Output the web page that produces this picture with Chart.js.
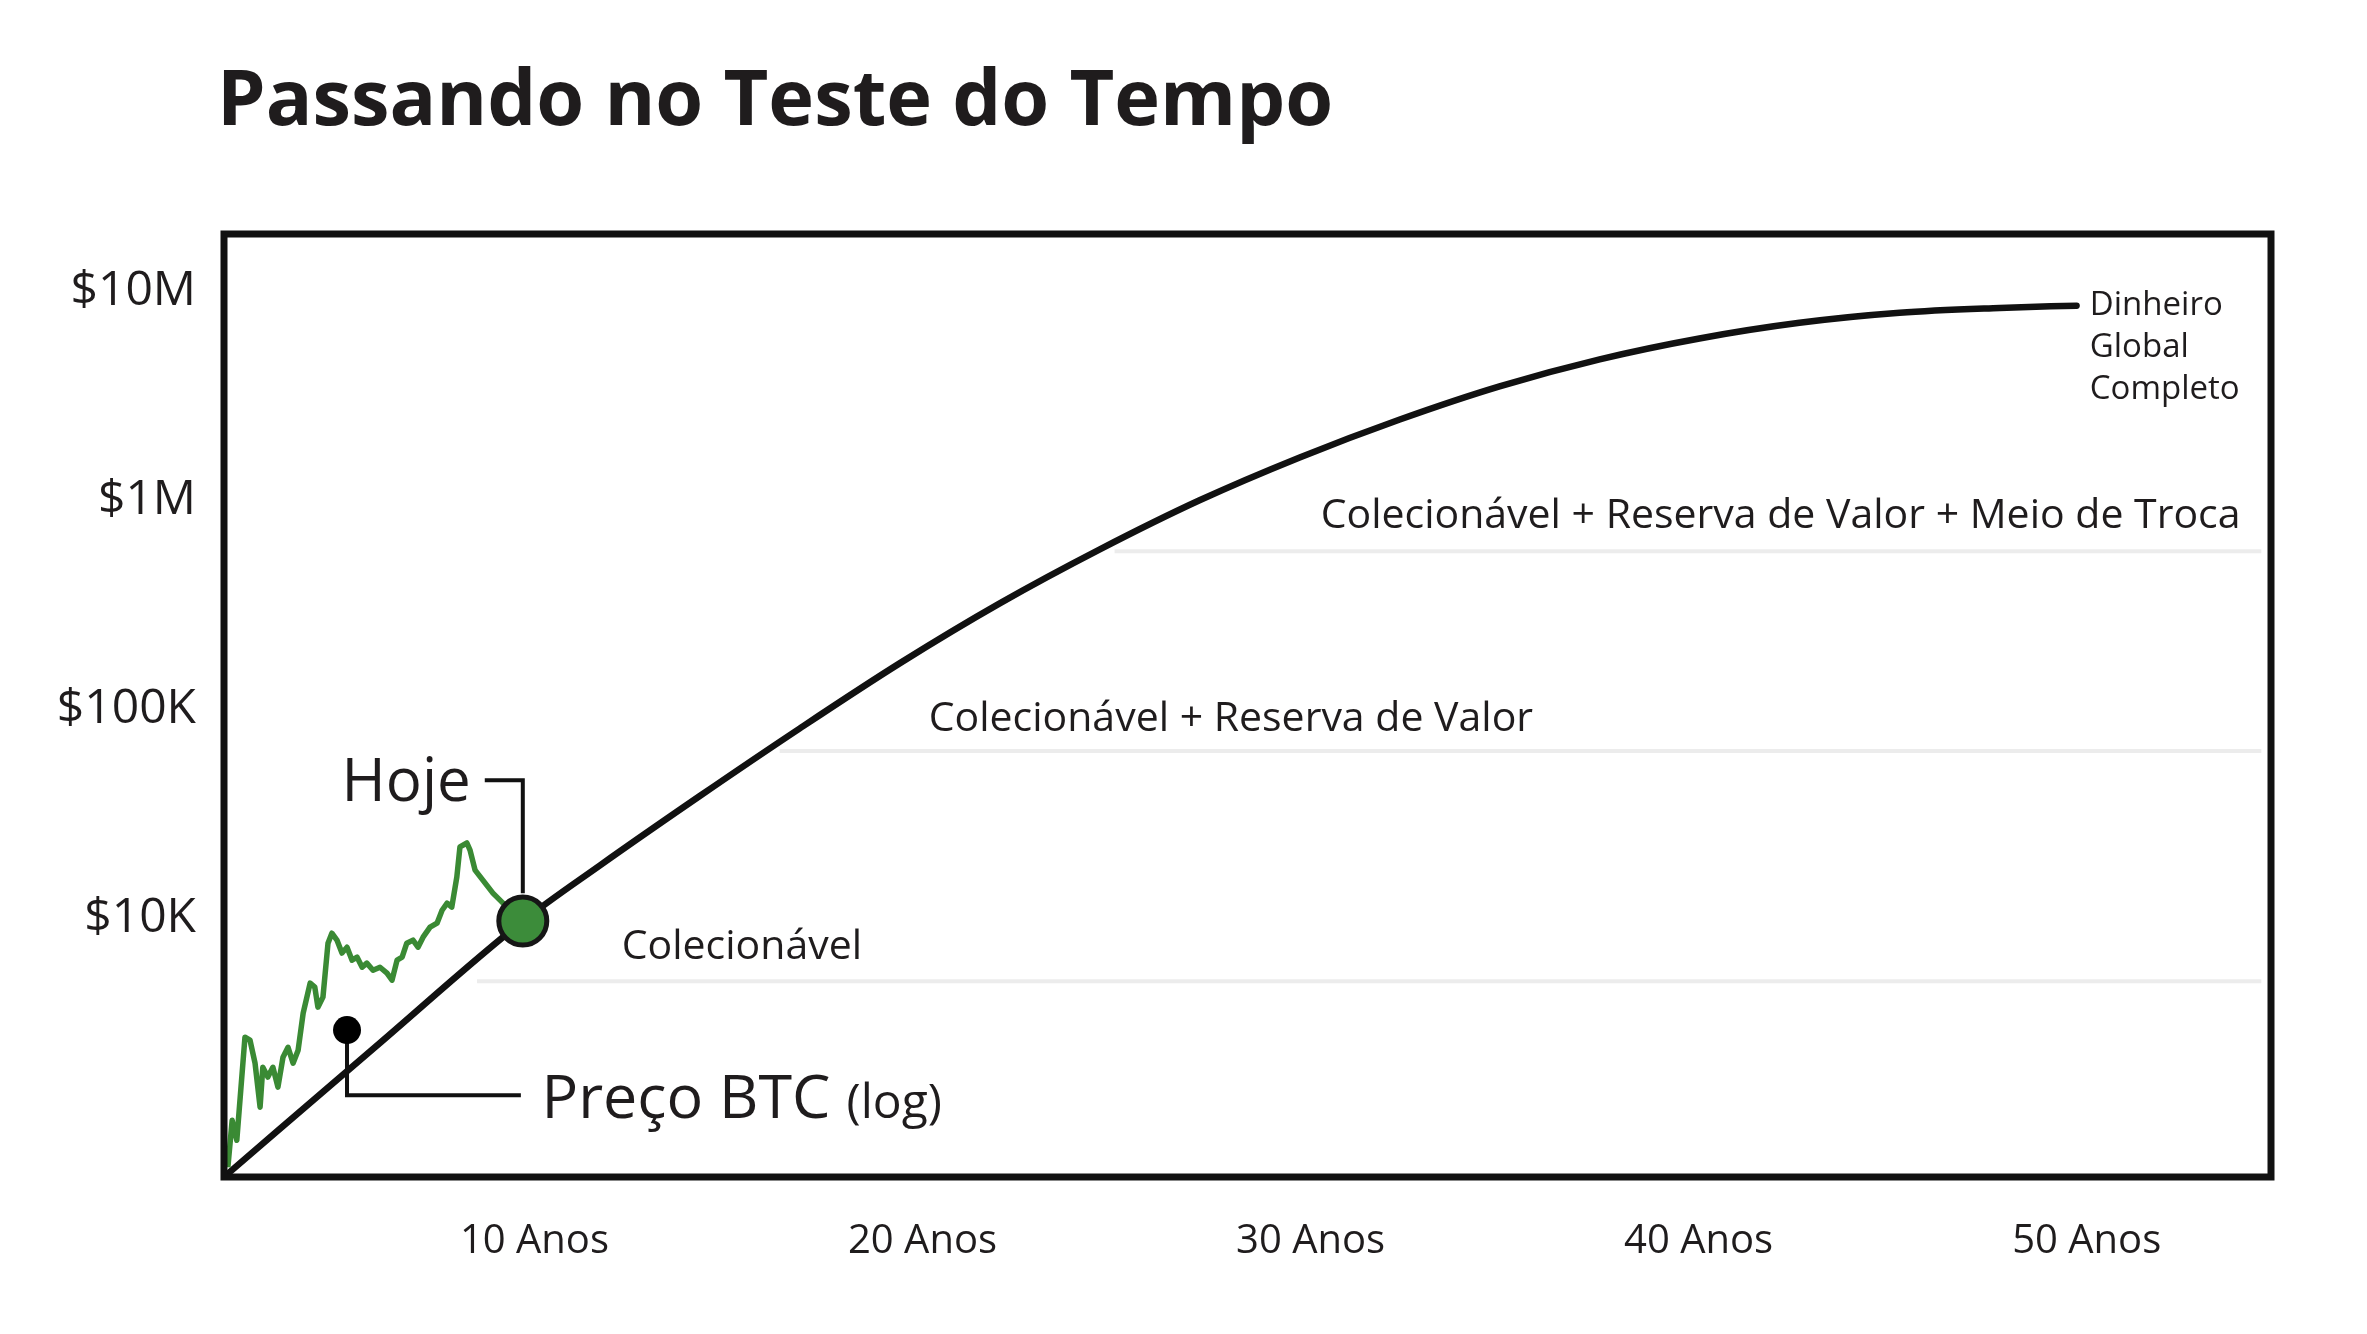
<!DOCTYPE html>
<html>
<head>
<meta charset="utf-8">
<script src="https://cdn.jsdelivr.net/npm/chart.js@4.4.1/dist/chart.umd.min.js"></script>
<style>
  html, body { margin: 0; padding: 0; background: #ffffff; }
  #wrap { width: 2367px; height: 1334px; position: relative; }
  canvas { display: block; }
</style>
</head>
<body>
<div id="wrap"><canvas id="c" width="2367" height="1334"></canvas></div>
<script>
// ---------------- DATA ----------------
const chartTitle = "Passando no Teste do Tempo";

const xTickValues = [10, 20, 30, 40, 50];
const xTickLabels = ["10 Anos", "20 Anos", "30 Anos", "40 Anos", "50 Anos"];
const yTickValues = [10000, 100000, 1000000, 10000000];
const yTickLabels = ["$10K", "$100K", "$1M", "$10M"];

// Projected adoption curve (years, USD, log scale)
const curveYears  = [2.05, 5.89, 9.70, 11.69, 14.26, 16.84, 19.41, 21.99, 24.57, 27.14, 29.72, 32.30, 34.87, 37.45, 40.02, 42.60, 45.18, 47.76, 49.74];
const curveValues = [586, 2404, 9660, 17870, 38370, 80910, 165600, 320900, 582100, 1000000, 1604000, 2438000, 3514000, 4732000, 5957000, 7079000, 7907000, 8337000, 8551000];

// Historical BTC price (green)
const btcYears  = [2.10, 2.21, 2.33, 2.54, 2.67, 2.80, 2.93, 3.00, 3.13, 3.26, 3.39, 3.52, 3.65, 3.78, 3.91, 4.04, 4.22, 4.34, 4.42, 4.55, 4.68, 4.78, 4.91, 5.04, 5.17, 5.30, 5.43, 5.56, 5.68, 5.84, 6.02, 6.20, 6.33, 6.46, 6.59, 6.71, 6.87, 7.00, 7.13, 7.31, 7.49, 7.62, 7.75, 7.87, 8.00, 8.08, 8.26, 8.34, 8.47, 8.67, 8.93, 9.19, 9.60];
const btcPrices = [641, 1074, 862, 2685, 2600, 2018, 1242, 1928, 1730, 1928, 1549, 2153, 2404, 2018, 2328, 3499, 4875, 4667, 3741, 4178, 7568, 8453, 7834, 6792, 7244, 6281, 6486, 5808, 6081, 5623, 5808, 5445, 5035, 6281, 6486, 7568, 7834, 7244, 8091, 9036, 9441, 10889, 11776, 11272, 15704, 21878, 22856, 21135, 16943, 15171, 13152, 11776, 10200];

// "Hoje" marker
const todayYear = [9.70];
const todayValue = [9660];

// Phase boundary lines (start year, end year, value)
const bandStartYears = [8.52, 16.32, 24.95];
const bandEndYears   = [54.5, 54.5, 54.5];
const bandValues     = [4977, 62950, 570000];

// Callout connectors
const hojeLinkYears  = [8.72, 9.70, 9.70];
const hojeLinkValues = [45710, 45710, 13150];
const priceDotYear   = [5.17];
const priceDotValue  = [2904];
const priceLinkYears  = [5.17, 5.17, 9.65];
const priceLinkValues = [2904, 1416, 1416];

// Text labels
const phaseLabels = ["Colecionável", "Colecionável + Reserva de Valor", "Colecionável + Reserva de Valor + Meio de Troca"];
const endLabelLines = ["Dinheiro", "Global", "Completo"];
const hojeLabel = "Hoje";
const priceLabel = "Preço BTC";
const priceLabelSmall = "(log)";

// ---------------- CHART ----------------
const FONT = "'Open Sans', 'Noto Sans', sans-serif";
const INK = "#1f1c1d";
const pts = (xs, ys) => xs.map((x, i) => ({ x: x, y: ys[i] }));

const bandDatasets = bandValues.map((v, i) => ({
  label: "band" + i,
  data: [{ x: bandStartYears[i], y: v }, { x: bandEndYears[i], y: v }],
  borderColor: "#ececec",
  borderWidth: 4,
  pointRadius: 0,
  tension: 0,
  order: 20
}));

const annotationPlugin = {
  id: "annotations",
  afterDatasetsDraw(chart) {
    const { ctx, chartArea: a } = chart;
    ctx.save();
    ctx.strokeStyle = "#111111";
    ctx.lineWidth = 7;
    ctx.lineJoin = "miter";
    ctx.strokeRect(a.left, a.top, a.right - a.left, a.bottom - a.top);
    ctx.restore();
  },
  afterDraw(chart) {
    const { ctx } = chart;
    const xs = chart.scales.x, ys = chart.scales.y;
    const px = (v) => xs.getPixelForValue(v);
    const py = (v) => ys.getPixelForValue(v);
    ctx.save();
    ctx.fillStyle = INK;
    ctx.textAlign = "left";
    ctx.textBaseline = "alphabetic";

    // Title
    ctx.font = "bold 77.5px " + FONT;
    ctx.fillText(chartTitle, 217, 125);

    // Phase labels
    ctx.font = "41px " + FONT;
    ctx.fillText(phaseLabels[0], px(12.25), py(6350));
    ctx.fillText(phaseLabels[1], px(20.16), py(78500));
    ctx.fillText(phaseLabels[2], px(30.26), py(736000));

    // End label
    ctx.font = "33px " + FONT;
    const ex = px(50.08), ey = py(7710000);
    endLabelLines.forEach((t, i) => ctx.fillText(t, ex, ey + i * 42));

    // Hoje
    ctx.font = "60px " + FONT;
    ctx.fillText(hojeLabel, px(5.03), py(36300));

    // Preço BTC (log)
    ctx.font = "61px " + FONT;
    const bx = px(10.18), by = py(1099);
    ctx.fillText(priceLabel, bx, by);
    const w = ctx.measureText(priceLabel).width;
    ctx.font = "48px " + FONT;
    ctx.fillText(priceLabelSmall, bx + w + 16, by);
    ctx.restore();
  }
};

new Chart(document.getElementById("c"), {
  type: "line",
  data: {
    datasets: [
      ...bandDatasets,
      {
        label: "Curva",
        data: pts(curveYears, curveValues),
        borderColor: "#111111",
        borderWidth: 6.5,
        borderCapStyle: "round",
        pointRadius: 0,
        cubicInterpolationMode: "monotone",
        order: 6
      },
      {
        label: "Preço BTC",
        data: pts(btcYears, btcPrices),
        borderColor: "#3a8a34",
        borderWidth: 5.5,
        borderJoinStyle: "round",
        pointRadius: 0,
        tension: 0,
        order: 5
      },
      {
        label: "hojeLink",
        data: pts(hojeLinkYears, hojeLinkValues),
        borderColor: "#111111",
        borderWidth: 4,
        pointRadius: 0,
        tension: 0,
        order: 4
      },
      {
        label: "priceLink",
        data: pts(priceLinkYears, priceLinkValues),
        borderColor: "#111111",
        borderWidth: 4,
        pointRadius: 0,
        tension: 0,
        order: 4
      },
      {
        label: "priceDot",
        data: pts(priceDotYear, priceDotValue),
        showLine: false,
        pointRadius: 14,
        pointBackgroundColor: "#000000",
        pointBorderWidth: 0,
        order: 3
      },
      {
        label: "Hoje",
        data: pts(todayYear, todayValue),
        showLine: false,
        pointRadius: 24,
        pointBackgroundColor: "#3c8c3a",
        pointBorderColor: "#161616",
        pointBorderWidth: 5,
        order: 1
      }
    ]
  },
  options: {
    responsive: false,
    devicePixelRatio: 1,
    animation: false,
    layout: { padding: { top: 234, right: 96, left: 0, bottom: 0 } },
    plugins: { legend: { display: false }, tooltip: { enabled: false }, title: { display: false } },
    scales: {
      x: {
        type: "linear",
        min: 2,
        max: 54.75,
        grid: { display: false, drawTicks: false },
        border: { display: false },
        afterBuildTicks: (s) => { s.ticks = xTickValues.map(v => ({ value: v })); },
        afterFit: (s) => { s.height = 157; },
        ticks: {
          autoSkip: false,
          maxRotation: 0,
          padding: 41,
          color: INK,
          font: { family: FONT, size: 40 },
          callback: (v) => xTickLabels[xTickValues.indexOf(v)]
        }
      },
      y: {
        type: "logarithmic",
        min: 575,
        max: 18840000,
        grid: { display: false, drawTicks: false },
        border: { display: false },
        afterBuildTicks: (s) => { s.ticks = yTickValues.map(v => ({ value: v, major: true })); },
        afterFit: (s) => { s.width = 224; },
        ticks: {
          autoSkip: false,
          padding: 28,
          color: INK,
          font: { family: FONT, size: 48 },
          callback: (v) => yTickLabels[yTickValues.indexOf(v)]
        }
      }
    }
  },
  plugins: [annotationPlugin]
});
</script>
</body>
</html>
